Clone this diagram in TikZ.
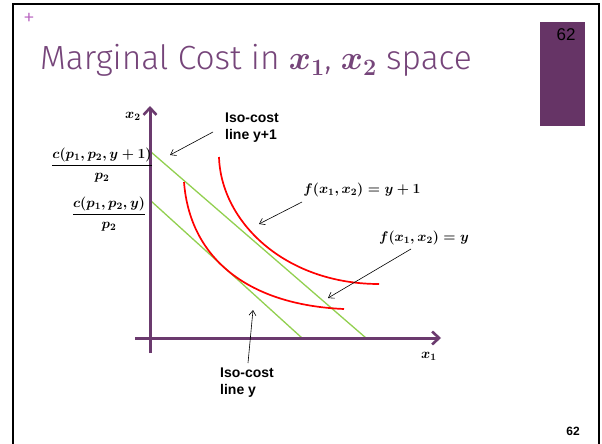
\documentclass[tikz,border=0pt]{standalone}
\usepackage{fix-cm}
\usepackage{amsmath}
\usepackage{bm}
\usepackage{fontspec}
\setmainfont{Liberation Sans}
\newfontfamily\titlefont{Fira Sans Light}
\usetikzlibrary{arrows.meta}
\definecolor{axispurple}{HTML}{6B3A6E}
\definecolor{boxpurple}{HTML}{663466}
\definecolor{titlepurple}{HTML}{76457A}
\definecolor{pluscol}{HTML}{B863C0}
\definecolor{isogreen}{HTML}{92D050}
\definecolor{isored}{HTML}{FF0000}
\begin{document}
\begin{tikzpicture}[x=1pt,y=-1pt,
  axis/.style={line width=3pt, color=axispurple},
  axtip/.style={-{Straight Barb[length=7pt,width=13pt,line width=2.6pt]}},
  iso/.style={line width=1.3pt, color=isogreen},
  quant/.style={line width=1.7pt, color=isored},
  pointer/.style={line width=0.6pt, -{Straight Barb[length=5pt,width=7pt,line width=0.6pt]}},
  lbl/.style={font=\bfseries\fontsize{14}{17}\selectfont, align=left, inner sep=0pt},
  mlbl/.style={inner sep=0pt, font=\fontsize{14}{16}\selectfont\boldmath},
  frac/.style={inner sep=0pt, font=\fontsize{14}{16}\selectfont\boldmath}]
\useasboundingbox (0,0) rectangle (602,444);
\fill[white] (0,0) rectangle (602,444);
% frame
\draw[line width=2pt] (13,444) -- (13,4) -- (599,4) -- (599,444);
% purple tab
\fill[boxpurple] (540,22) rectangle (585,126);
\node[font=\fontsize{17}{19}\selectfont, inner sep=0pt] (pgtop) at (566,35) {62};
\node[font=\bfseries\fontsize{12}{14}\selectfont, inner sep=0pt] (pgbot) at (573,431) {62};
% title
\node[text=pluscol, font=\titlefont\fontsize{24}{26}\selectfont, inner sep=0pt] (plus) at (29,19) {+};
\node[anchor=base west, text=titlepurple, font=\titlefont\fontsize{33.5}{36}\selectfont, inner sep=0pt] (title) at (40,70)
  {Marginal Cost in $\bm{x_1}$, $\bm{x_2}$ space};
% axes
\coordinate (xs) at (135,338);
\coordinate (xe) at (441,338);
\coordinate (ys) at (150,353);
\coordinate (ye) at (150,106);
% iso-cost lines
\coordinate (g1a) at (151,152);
\coordinate (g1b) at (366,338);
\coordinate (g2a) at (151,201);
\coordinate (g2b) at (302,338);
\draw[iso] (g1a) -- (g1b);
\draw[iso] (g2a) -- (g2b);
\draw[axis, axtip] (xs) -- (xe);
\draw[axis, axtip] (ys) -- (ye);
% isoquants
\coordinate (q1a) at (219,157);
\coordinate (q1c1) at (221,222);
\coordinate (q1c2) at (285,284);
\coordinate (q1b) at (379,284);
\coordinate (q2a) at (184,182);
\coordinate (q2c1) at (190,260);
\coordinate (q2c2) at (250,305);
\coordinate (q2b) at (344,309);
\draw[quant] (q1a) .. controls (q1c1) and (q1c2) .. (q1b);
\draw[quant] (q2a) .. controls (q2c1) and (q2c2) .. (q2b);
% axis labels
\node[mlbl] (x2lab) at (133,116) {$\bm{x_2}$};
\node[mlbl] (x1lab) at (429,356) {$\bm{x_1}$};
% intercept labels
\node[frac] (c1) at (102,165) {$\dfrac{\bm{c(p_1,p_2,y+1)}}{\bm{p_2}}$};
\node[frac] (c0) at (109,214) {$\dfrac{\bm{c(p_1,p_2,y)}}{\bm{p_2}}$};
% text labels
\node[lbl, anchor=north west] (iso1) at (225,113) {Iso-cost\\line y+1};
\node[lbl, anchor=north west] (iso0) at (220,368) {Iso-cost\\line y};
\node[mlbl] (f1) at (362,190) {$\bm{f(x_1,x_2)=y+1}$};
\node[mlbl] (f0) at (424,238) {$\bm{f(x_1,x_2)=y}$};
% pointers
\coordinate (p1s) at (213,132);
\coordinate (p1e) at (170,155);
\coordinate (p2s) at (302,202);
\coordinate (p2e) at (259,224);
\coordinate (p3s) at (411,249);
\coordinate (p3e) at (328,298);
\coordinate (p4s) at (248,363);
\coordinate (p4e) at (253,310);
\draw[pointer] (p1s) -- (p1e);
\draw[pointer] (p2s) -- (p2e);
\draw[pointer] (p3s) -- (p3e);
\draw[pointer] (p4s) -- (p4e);
\end{tikzpicture}
\end{document}
